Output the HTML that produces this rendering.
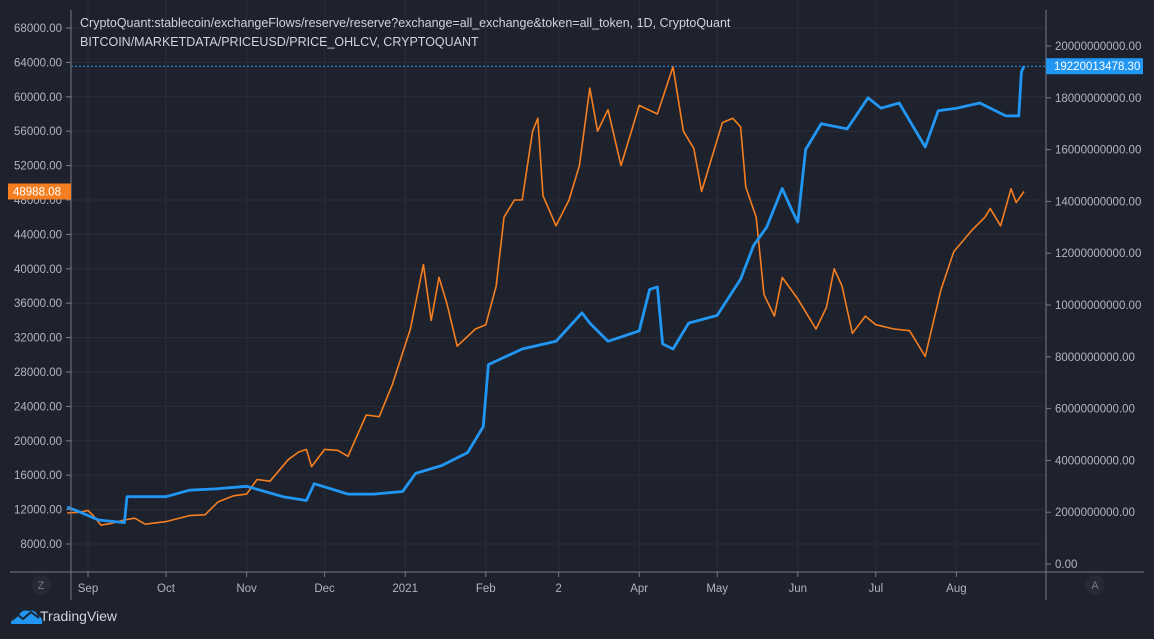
<!DOCTYPE html>
<html><head><meta charset="utf-8">
<style>
html,body{margin:0;padding:0;background:#1e222d;}
body{width:1154px;height:634px;overflow:hidden;font-family:"Liberation Sans",sans-serif;}
svg text{font-family:"Liberation Sans",sans-serif;}
</style></head>
<body>
<svg id="chart" width="1154" height="634" xmlns="http://www.w3.org/2000/svg">
<rect x="0" y="0" width="1154" height="634" fill="#1e222d"/>
<g id="grid"></g>
<g id="series"></g>
<g id="axes"></g>
<text x="80" y="27" fill="#d1d4dc" font-size="12.5">CryptoQuant:stablecoin/exchangeFlows/reserve/reserve?exchange=all_exchange&amp;token=all_token, 1D, CryptoQuant</text>
<text x="80" y="46" fill="#d1d4dc" font-size="12.5">BITCOIN/MARKETDATA/PRICEUSD/PRICE_OHLCV, CRYPTOQUANT</text>
<g><circle cx="41" cy="585" r="10" fill="#262a35"/><text x="41" y="589" fill="#787b86" font-size="11" text-anchor="middle">Z</text></g>
<g><circle cx="1095" cy="585" r="10" fill="#262a35"/><text x="1095" y="589" fill="#787b86" font-size="11" text-anchor="middle">A</text></g>
<g>
<path d="M11 624 q0-8 8-9 q3-6 10-4 q6-2 9 5 q5 1 4 8 z" fill="#2196f3"/>
<path d="M12 620 l6-5 l5 4 l8-7 l8 6" stroke="#1e222d" stroke-width="2" fill="none"/>
<text x="40" y="621" fill="#d1d4dc" font-size="14">TradingView</text>
</g>
</svg>
<script>
const btcDates=["2020-08-24","2020-08-29","2020-09-01","2020-09-03","2020-09-06","2020-09-10","2020-09-15","2020-09-19","2020-09-23","2020-10-01","2020-10-10","2020-10-16","2020-10-21","2020-10-27","2020-11-01","2020-11-05","2020-11-10","2020-11-17","2020-11-21","2020-11-24","2020-11-26","2020-12-01","2020-12-06","2020-12-10","2020-12-17","2020-12-22","2020-12-27","2021-01-03","2021-01-08","2021-01-11","2021-01-14","2021-01-17","2021-01-21","2021-01-28","2021-02-01","2021-02-05","2021-02-08","2021-02-12","2021-02-15","2021-02-19","2021-02-21","2021-02-23","2021-02-28","2021-03-05","2021-03-09","2021-03-13","2021-03-16","2021-03-20","2021-03-25","2021-04-01","2021-04-08","2021-04-14","2021-04-18","2021-04-22","2021-04-25","2021-05-03","2021-05-07","2021-05-10","2021-05-12","2021-05-16","2021-05-19","2021-05-23","2021-05-26","2021-06-01","2021-06-08","2021-06-12","2021-06-15","2021-06-18","2021-06-22","2021-06-27","2021-07-01","2021-07-08","2021-07-14","2021-07-20","2021-07-26","2021-07-31","2021-08-07","2021-08-12","2021-08-14","2021-08-18","2021-08-22","2021-08-24","2021-08-27"];
const btcValues=[11600,11700,11900,11300,10200,10400,10800,11000,10300,10600,11300,11400,12900,13600,13800,15500,15300,17800,18700,19000,17000,19000,18900,18200,23000,22800,26500,33000,40500,34000,39000,36000,31000,33000,33500,38000,46000,48000,48000,56000,57500,48500,45000,48000,52000,61000,56000,58500,52000,59000,58000,63500,56000,54000,49000,57000,57500,56500,49500,46000,37000,34500,39000,36500,33000,35500,40000,38000,32500,34500,33500,33000,32800,29800,37500,42000,44500,46000,47000,45000,49300,47700,48988];
const usdDates=["2020-08-24","2020-08-29","2020-09-05","2020-09-15","2020-09-16","2020-10-01","2020-10-10","2020-10-20","2020-11-01","2020-11-08","2020-11-15","2020-11-24","2020-11-27","2020-12-10","2020-12-20","2020-12-31","2021-01-05","2021-01-15","2021-01-25","2021-01-31","2021-02-02","2021-02-15","2021-02-28","2021-03-10","2021-03-13","2021-03-20","2021-04-01","2021-04-05","2021-04-08","2021-04-10","2021-04-14","2021-04-20","2021-05-01","2021-05-10","2021-05-15","2021-05-20","2021-05-26","2021-05-30","2021-06-01","2021-06-04","2021-06-10","2021-06-20","2021-06-28","2021-07-03","2021-07-10","2021-07-20","2021-07-25","2021-08-01","2021-08-10","2021-08-20","2021-08-25","2021-08-26","2021-08-27"];
const usdValues=[2.2,2.0,1.7,1.6,2.6,2.6,2.85,2.9,3.0,2.8,2.6,2.45,3.1,2.7,2.7,2.8,3.5,3.8,4.3,5.3,7.7,8.3,8.6,9.7,9.3,8.6,9.0,10.6,10.7,8.5,8.3,9.3,9.6,11.0,12.3,13.0,14.5,13.6,13.2,16.0,17.0,16.8,18.0,17.6,17.8,16.1,17.5,17.6,17.8,17.3,17.3,19.0,19.22];
const leftTicks=[68000,64000,60000,56000,52000,48000,44000,40000,36000,32000,28000,24000,20000,16000,12000,8000];
const rightTicks=[20,18,16,14,12,10,8,6,4,2,0];
const monthLabels=["Sep","Oct","Nov","Dec","2021","Feb","2","Apr","May","Jun","Jul","Aug"];
const monthDates=["2020-09-01","2020-10-01","2020-11-01","2020-12-01","2021-01-01","2021-02-01","2021-03-01","2021-04-01","2021-05-01","2021-06-01","2021-07-01","2021-08-01"];
const lastUsd="19220013478.30", lastBtc="48988.08";

const NS="http://www.w3.org/2000/svg";
const base=Date.UTC(2020,8,1);
function days(s){const p=s.split("-");return (Date.UTC(+p[0],+p[1]-1,+p[2])-base)/86400000;}
function xs(s){return 88+days(s)*2.6;}
function yl(v){return 28+(68000-v)*0.0086;}
function yr(b){return 564-b*25.9;}
function el(tag,attrs,parent){const e=document.createElementNS(NS,tag);for(const k in attrs)e.setAttribute(k,attrs[k]);parent.appendChild(e);return e;}
const grid=document.getElementById("grid"),axes=document.getElementById("axes"),series=document.getElementById("series");
leftTicks.forEach(v=>{const g=el("line",{x1:71,x2:1046,y1:yl(v),y2:yl(v),stroke:"#2a2e39","stroke-width":1},grid);


const t=el("text",{x:62,y:yl(v)+4,fill:"#b2b5be","font-size":11.5,"text-anchor":"end"},axes);t.textContent=v.toFixed(2);


el("line",{x1:66,x2:71,y1:yl(v),y2:yl(v),stroke:"#787b86"},axes);});
rightTicks.forEach(b=>{const t=el("text",{x:1055,y:yr(b)+4,fill:"#b2b5be","font-size":11.5},axes);t.textContent=(b*1e9).toFixed(2);


el("line",{x1:1046,x2:1051,y1:yr(b),y2:yr(b),stroke:"#787b86"},axes);});
monthDates.forEach((d,i)=>{const x=xs(d);const g=el("line",{x1:x,x2:x,y1:0,y2:572,stroke:"#2a2e39"},grid);


el("line",{x1:x,x2:x,y1:572,y2:577,stroke:"#787b86"},axes);
const t=el("text",{x:x,y:592,fill:"#b2b5be","font-size":11.5,"text-anchor":"middle"},axes);t.textContent=monthLabels[i];

});
el("line",{x1:71,x2:71,y1:10,y2:600,stroke:"#787b86"},axes);
el("line",{x1:1046,x2:1046,y1:10,y2:600,stroke:"#787b86"},axes);
el("line",{x1:10,x2:1144,y1:572,y2:572,stroke:"#787b86"},axes);
const ob=el("polyline",{points:btcDates.map((d,i)=>xs(d).toFixed(1)+","+yl(btcValues[i]).toFixed(1)).join(" "),fill:"none",stroke:"#f57f20","stroke-width":1.6,"stroke-linejoin":"round"},series);


const bl=el("polyline",{points:usdDates.map((d,i)=>xs(d).toFixed(1)+","+yr(usdValues[i]).toFixed(1)).join(" "),fill:"none",stroke:"#2196f3","stroke-width":2.8,"stroke-linejoin":"round"},series);


const ly=yr(usdValues[usdValues.length-1]);
el("line",{x1:71,x2:1046,y1:ly,y2:ly,stroke:"#2196f3","stroke-dasharray":"2,2","stroke-width":1},series);
const rb=el("rect",{x:1046,y:ly-8,width:97,height:16,fill:"#2196f3"},axes);


const rt=el("text",{x:1054,y:ly+4,fill:"#ffffff","font-size":11.5},axes);rt.textContent=lastUsd;
const by=yl(btcValues[btcValues.length-1]);
const lb=el("rect",{x:8,y:by-8,width:63,height:16,fill:"#f57f20"},axes);


const lt=el("text",{x:13,y:by+4,fill:"#ffffff","font-size":11.5},axes);lt.textContent=lastBtc;
</script>
</body></html>
